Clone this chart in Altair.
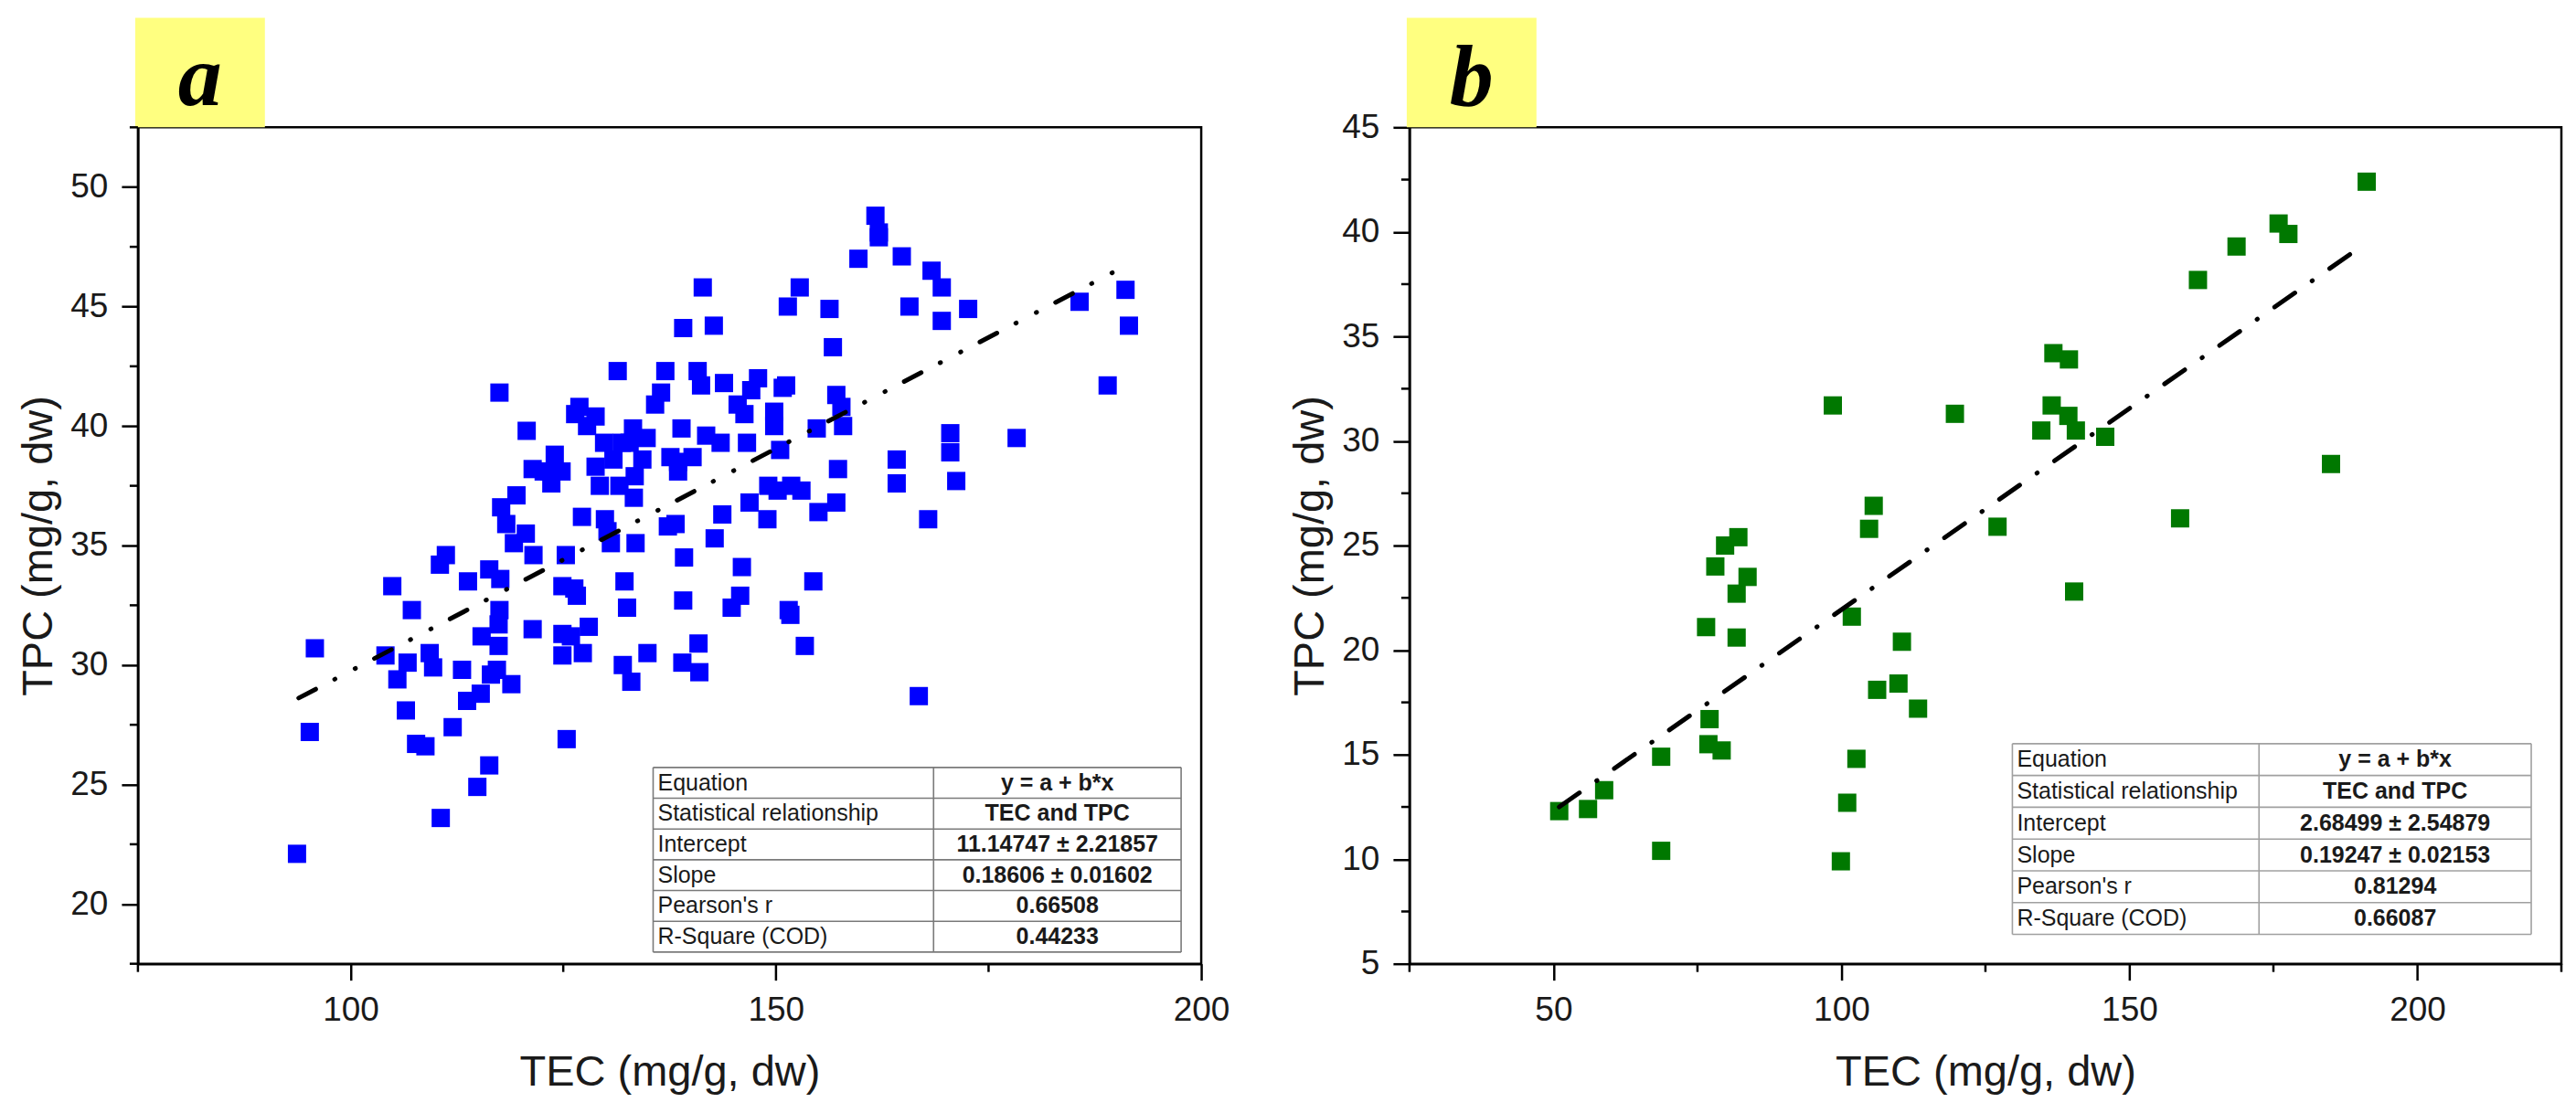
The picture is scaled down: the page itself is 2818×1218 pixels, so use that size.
import altair as alt
import pandas as pd

# ---------------- data ----------------
A_TEC = [93.7, 95.2, 95.8, 104.1, 104.9, 105.5, 106.7, 106.5, 107.2, 107.7,
         108.8, 109.3, 109.7, 110.5, 111.2, 110.6, 112.0, 113.1, 113.7, 113.8,
         114.9, 115.3, 115.4, 116.3, 116.3, 116.5, 117.2, 117.4, 117.4, 117.5,
         117.6, 117.5, 117.7, 118.3, 118.9, 119.2, 119.5, 120.6, 120.7, 121.4,
         121.5, 121.4, 123.4, 123.6, 124.0, 124.8, 124.9, 124.9, 124.9, 125.3,
         125.4, 125.9, 126.3, 126.6, 126.4, 126.9, 127.2, 127.3, 127.8, 128.0,
         128.8, 128.8, 129.3, 129.8, 129.9, 130.2, 130.6, 130.9, 131.4, 131.6,
         132.0, 132.2, 132.5, 132.8, 133.0, 133.2, 133.3, 133.4, 133.5, 134.3,
         134.8, 134.9, 135.8, 136.5, 137.0, 137.3, 137.6, 138.2, 138.5, 138.9,
         139.0, 139.1, 139.1, 139.2, 140.2, 140.8, 140.9, 141.0, 141.2, 141.4,
         141.8, 142.7, 142.8, 143.5, 143.7, 143.9, 144.8, 145.5, 145.8, 146.0,
         146.3, 146.6, 146.9, 147.1, 147.9, 149.0, 149.1, 149.8, 149.8, 150.2,
         150.5, 150.8, 151.2, 151.4, 151.5, 151.7, 151.8, 152.8, 153.0, 153.4,
         154.4, 154.8, 155.0, 156.3, 156.7, 157.1, 157.1, 157.3, 157.7, 157.9,
         159.7, 161.7, 162.1, 162.1, 164.2, 164.2, 164.8, 165.7, 166.8, 167.9,
         168.3, 169.5, 169.5, 170.5, 170.5, 171.2, 172.6, 178.3, 185.7, 189.0,
         191.1, 191.5, 131.9, 138.5, 122.7]
A_TPC = [22.1, 27.2, 30.7, 30.4, 33.3, 29.4, 30.1, 28.1, 32.3, 26.7,
         26.6, 30.5, 29.9, 34.2, 34.6, 23.6, 27.4, 29.8, 28.5, 33.5,
         24.9, 28.8, 31.2, 25.8, 34.0, 29.6, 29.8, 30.8, 31.7, 32.3,
         33.6, 41.4, 36.6, 35.9, 29.2, 35.1, 37.1, 35.5, 39.8, 31.5,
         34.6, 38.2, 38.1, 37.6, 38.8, 38.1, 30.4, 31.3, 33.3, 34.6,
         26.9, 31.2, 33.2, 32.9, 40.5, 40.8, 36.2, 30.5, 40.0, 31.6,
         40.4, 38.3, 37.5, 39.3, 36.1, 35.6, 35.1, 38.6, 42.3, 37.5,
         30.0, 33.5, 32.4, 39.3, 29.3, 39.9, 37.0, 37.9, 35.1, 38.6,
         39.5, 30.5, 40.9, 41.4, 42.3, 35.8, 38.7, 35.9, 38.1, 39.9,
         30.1, 44.1, 32.7, 34.5, 38.7, 42.3, 30.9, 29.7, 41.7, 45.8,
         39.6, 44.2, 35.3, 39.3, 36.3, 41.8, 32.4, 40.9, 32.9, 34.1,
         40.5, 39.3, 36.8, 41.5, 42.0, 36.1, 37.5, 40.6, 40.0, 37.3,
         39.0, 41.6, 41.7, 45.0, 32.3, 32.1, 37.5, 45.8, 37.3, 30.8,
         33.5, 39.9, 36.4, 44.9, 43.3, 41.3, 36.8, 38.2, 40.8, 40.0,
         47.0, 48.8, 48.1, 47.9, 38.6, 37.6, 47.1, 45.0, 28.7, 36.1,
         46.5, 45.8, 44.4, 39.7, 38.9, 37.7, 44.9, 39.5, 45.2, 41.7,
         45.7, 44.2, 39.3, 38.5, 38.1]

B_TEC = [51.0, 56.0, 58.8, 68.7, 68.7, 76.5, 77.1, 76.9, 79.2, 78.1,
         79.8, 82.1, 81.8, 81.8, 83.7, 98.5, 99.9, 101.0, 101.8, 102.6,
         104.8, 105.6, 106.2, 109.9, 110.5, 113.3, 119.7, 127.1, 134.7, 136.5,
         136.8, 139.5, 139.4, 140.7, 140.4, 145.8, 158.8, 161.9, 168.6, 175.9,
         177.6, 185.0, 191.2]
B_TPC = [12.3, 12.4, 13.3, 14.9, 10.4, 21.1, 16.7, 15.5, 15.2, 24.0,
         25.0, 25.4, 22.7, 20.6, 23.5, 31.7, 9.9, 12.7, 21.6, 14.8,
         25.8, 26.9, 18.1, 18.4, 20.4, 17.2, 31.3, 25.9, 30.5, 31.7,
         34.2, 33.9, 31.2, 30.5, 22.8, 30.2, 26.3, 37.7, 39.3, 40.4,
         39.9, 28.9, 42.4]

TABLE_LABELS = ["Equation", "Statistical relationship", "Intercept", "Slope",
                "Pearson's r", "R-Square (COD)"]
A_TABLE_VALUES = ["y = a + b*x", "TEC and TPC", "11.14747 ± 2.21857",
                  "0.18606 ± 0.01602", "0.66508", "0.44233"]
B_TABLE_VALUES = ["y = a + b*x", "TEC and TPC", "2.68499 ± 2.54879",
                  "0.19247 ± 0.02153", "0.81294", "0.66087"]

A_INTERCEPT, A_SLOPE = 11.14747, 0.18606
B_INTERCEPT, B_SLOPE = 2.68499, 0.19247
A_FIT_RANGE = [93.9, 191.3]
B_FIT_RANGE = [51.0, 191.0]

A_X_MAJOR = [100, 150, 200]
A_X_MINOR = [75, 125, 175]
A_Y_MAJOR = [20, 25, 30, 35, 40, 45, 50]
A_Y_MINOR = [17.5, 22.5, 27.5, 32.5, 37.5, 42.5, 47.5, 52.5]
B_X_MAJOR = [50, 100, 150, 200]
B_X_MINOR = [25, 75, 125, 175, 225]
B_Y_MAJOR = [5, 10, 15, 20, 25, 30, 35, 40, 45]
B_Y_MINOR = [7.5, 12.5, 17.5, 22.5, 27.5, 32.5, 37.5, 42.5]

# ---------------- layout ----------------
FONT = "Liberation Sans"
H = 916
WA, WB = 1164, 1261
ONE = pd.DataFrame({"k": [0]})


def panel(tec, tpc, color, xdom, ydom, xmaj, xmin, ymaj, ymin, width,
          icpt, slope, fit_range, dash, values, tab, letter):
    xs = alt.Scale(domain=xdom, nice=False, zero=False)
    ys = alt.Scale(domain=ydom, nice=False, zero=False)
    common = dict(grid=False, tickSize=18, tickWidth=2.5, tickColor="black",
                  domainColor="black", domainWidth=2.5, labelFont=FONT,
                  labelFontSize=37, labelColor="#1a1a1a", labelPadding=15,
                  labelOverlap=False, titleFont=FONT, titleFontSize=47,
                  titleFontWeight="normal", titleColor="#1a1a1a",
                  titleAlign="center", titleBaseline="middle")
    xaxis = alt.Axis(values=xmaj, title="TEC (mg/g, dw)", labelFlush=False,
                     titleX=width / 2, titleY=119, **common)
    yaxis = alt.Axis(values=ymaj, title="TPC (mg/g, dw)", titleX=-108,
                     titleY=H / 2, titleAngle=270, **common)

    box = alt.Chart(ONE).mark_rect(color="#FFFF80").encode(
        x=alt.value(-3), x2=alt.value(139), y=alt.value(-120), y2=alt.value(0))
    let = alt.Chart(ONE).mark_text(
        font="Liberation Serif", fontStyle="italic", fontWeight="bold",
        fontSize=96, align="center", baseline="alphabetic", color="black"
    ).encode(x=alt.value(68), y=alt.value(-24), text=alt.value(letter))

    pts = alt.Chart(pd.DataFrame({"TEC": tec, "TPC": tpc})).mark_square(
        size=400, color=color, opacity=1, strokeWidth=0
    ).encode(x=alt.X("TEC:Q", scale=xs, axis=xaxis),
             y=alt.Y("TPC:Q", scale=ys, axis=yaxis))

    fit = pd.DataFrame({"TEC": fit_range,
                        "TPC": [icpt + slope * v for v in fit_range]})
    line = alt.Chart(fit).mark_line(
        color="black", strokeWidth=5, strokeDash=dash, strokeCap="round"
    ).encode(x=alt.X("TEC:Q", scale=xs), y=alt.Y("TPC:Q", scale=ys))

    mx = alt.Chart(pd.DataFrame({"TEC": xmin})).mark_rule(
        color="black", strokeWidth=2.5
    ).encode(x=alt.X("TEC:Q", scale=xs), y=alt.value(H), y2=alt.value(H + 9))
    my = alt.Chart(pd.DataFrame({"TPC": ymin})).mark_rule(
        color="black", strokeWidth=2.5
    ).encode(y=alt.Y("TPC:Q", scale=ys), x=alt.value(0), x2=alt.value(-9))

    L, D, R, T, rh, lc = tab
    B = T + 6 * rh
    bg = alt.Chart(ONE).mark_rect(color="white").encode(
        x=alt.value(L), x2=alt.value(R), y=alt.value(T), y2=alt.value(B))
    hl = alt.Chart(pd.DataFrame({"py": [T + i * rh for i in range(7)]})).mark_rule(
        color=lc, strokeWidth=1.6
    ).encode(y=alt.Y("py:Q", scale=None), x=alt.value(L), x2=alt.value(R))
    vl = alt.Chart(pd.DataFrame({"px": [L, D, R]})).mark_rule(
        color=lc, strokeWidth=1.6
    ).encode(x=alt.X("px:Q", scale=None), y=alt.value(T), y2=alt.value(B))
    rows = pd.DataFrame({"label": TABLE_LABELS, "value": values,
                         "py": [T + (i + 0.5) * rh for i in range(6)]})
    tl = alt.Chart(rows).mark_text(
        font=FONT, fontSize=25, align="left", baseline="middle", color="#1a1a1a"
    ).encode(x=alt.value(L + 5), y=alt.Y("py:Q", scale=None), text="label:N")
    tv = alt.Chart(rows).mark_text(
        font=FONT, fontSize=25, fontWeight="bold", align="center",
        baseline="middle", color="#1a1a1a"
    ).encode(x=alt.value((D + R) / 2), y=alt.Y("py:Q", scale=None), text="value:N")

    return alt.layer(box, let, pts, line, mx, my, bg, hl, vl, tl, tv).properties(
        width=width, height=H)


pa = panel(A_TEC, A_TPC, "#0000FF", [75, 200], [17.5, 52.5], A_X_MAJOR, A_X_MINOR,
           A_Y_MAJOR, A_Y_MINOR, WA, A_INTERCEPT, A_SLOPE, A_FIT_RANGE,
           [21, 23.4, 0.5, 24.7, 0.5, 23.4], A_TABLE_VALUES,
           (564, 871, 1142, 701, 33.7, "#7a7a7a"), "a")
pb = panel(B_TEC, B_TPC, "#007800", [25, 225], [5, 45], B_X_MAJOR, B_X_MINOR,
           B_Y_MAJOR, B_Y_MINOR, WB, B_INTERCEPT, B_SLOPE, B_FIT_RANGE,
           [27, 23, 0.5, 23], B_TABLE_VALUES,
           (660, 930, 1228, 675, 34.8, "#a0a0a0"), "b")

chart = alt.hconcat(pa, pb, spacing=228, bounds="flush").configure_view(
    stroke="black", strokeWidth=2.5
).properties(
    padding={"left": 9, "top": 9, "right": 5, "bottom": 5},
    background="white",
)

chart.save("out.html", embed_options={"renderer": "svg", "actions": False})
